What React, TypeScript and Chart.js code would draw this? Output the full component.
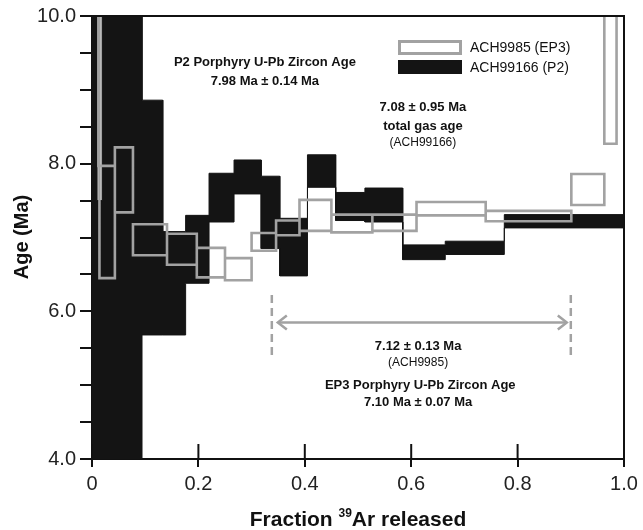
import React, { useEffect, useRef } from 'react';
import { Chart, registerables } from 'chart.js';

Chart.register(...registerables);

const FONT = "'Liberation Sans', Arial, Helvetica, sans-serif";

// ACH99166 (P2) step-heating spectrum: cumulative 39Ar fraction edges, age and error (Ma)
const p2Edges = [0, 0.009, 0.019, 0.094, 0.133, 0.176, 0.22, 0.267, 0.318, 0.353, 0.405, 0.458, 0.513, 0.584, 0.664, 0.775, 1.0];
const p2Age = [7.0, 5.0, 7.0, 7.27, 6.38, 6.84, 7.54, 7.82, 7.34, 6.87, 7.9, 7.42, 7.44, 6.8, 6.86, 7.22];
const p2Err = [4.0, 2.5, 4.0, 1.59, 0.7, 0.46, 0.33, 0.23, 0.49, 0.39, 0.22, 0.19, 0.23, 0.1, 0.09, 0.09];

// ACH9985 (EP3) step-heating spectrum
const ep3Edges = [0.012, 0.014, 0.043, 0.077, 0.141, 0.197, 0.25, 0.3, 0.346, 0.39, 0.45, 0.527, 0.61, 0.74, 0.901, 0.963, 0.986];
const ep3Age = [9.49, 7.21, 7.78, 6.97, 6.84, 6.66, 6.57, 6.94, 7.13, 7.3, 7.19, 7.2, 7.39, 7.29, 7.65, 9.64];
const ep3Err = [1.52, 0.76, 0.44, 0.21, 0.21, 0.2, 0.15, 0.12, 0.1, 0.21, 0.12, 0.11, 0.09, 0.07, 0.21, 1.37];

// Plateau bracket for ACH9985
const plateauRange = [0.338, 0.9];
const plateauArrowY = 5.85;
const plateauTickY = [5.38, 6.22];

const seriesNames = ['ACH9985 (EP3)', 'ACH99166 (P2)'];

const GRAY = '#a2a2a2';
const BLACK = '#141414';

function stepLine(edges: number[], vals: number[]) {
  const pts: { x: number; y: number | null }[] = [];
  vals.forEach((v, i) => {
    pts.push({ x: edges[i], y: v });
    pts.push({ x: edges[i + 1], y: v });
  });
  return pts;
}

function boxes(edges: number[], lo: number[], hi: number[]) {
  const pts: { x: number; y: number | null }[] = [];
  lo.forEach((l, i) => {
    const x0 = edges[i];
    const x1 = edges[i + 1];
    const h = hi[i];
    pts.push({ x: x0, y: l }, { x: x0, y: h }, { x: x1, y: h }, { x: x1, y: l }, { x: x0, y: l }, { x: x0, y: null });
  });
  return pts;
}

const extras = {
  id: 'extras',
  afterDraw(chart: any) {
    const { ctx, chartArea: a, scales } = chart;
    const xs = scales.x;
    const ys = scales.y;
    const X = (v: number) => xs.getPixelForValue(v);
    const Y = (v: number) => ys.getPixelForValue(v);
    ctx.save();

    // frame top & right
    ctx.strokeStyle = '#111';
    ctx.lineWidth = 2;
    ctx.beginPath();
    ctx.moveTo(a.left, a.top);
    ctx.lineTo(a.right, a.top);
    ctx.lineTo(a.right, a.bottom);
    ctx.stroke();

    // inner x ticks
    xs.ticks.forEach((t: any) => {
      const px = X(t.value);
      ctx.beginPath();
      ctx.moveTo(px, a.bottom);
      ctx.lineTo(px, a.bottom - 15);
      ctx.stroke();
    });

    // plateau bracket
    ctx.strokeStyle = GRAY;
    ctx.lineWidth = 2.5;
    ctx.setLineDash([8, 5]);
    plateauRange.forEach((v) => {
      ctx.beginPath();
      ctx.moveTo(X(v), Y(plateauTickY[1]));
      ctx.lineTo(X(v), Y(plateauTickY[0]));
      ctx.stroke();
    });
    ctx.setLineDash([]);
    const xl = X(plateauRange[0]) + 6;
    const xr = X(plateauRange[1]) - 4;
    const ya = Y(plateauArrowY);
    ctx.beginPath();
    ctx.moveTo(xl, ya);
    ctx.lineTo(xr, ya);
    ctx.stroke();
    ctx.lineJoin = 'miter';
    ctx.beginPath();
    ctx.moveTo(xl + 9, ya - 7);
    ctx.lineTo(xl, ya);
    ctx.lineTo(xl + 9, ya + 7);
    ctx.stroke();
    ctx.beginPath();
    ctx.moveTo(xr - 9, ya - 7);
    ctx.lineTo(xr, ya);
    ctx.lineTo(xr - 9, ya + 7);
    ctx.stroke();

    // annotations
    ctx.fillStyle = '#111';
    ctx.textAlign = 'center';
    ctx.textBaseline = 'middle';
    const txt = (s: string, x: number, y: number, bold: boolean, size: number) => {
      ctx.font = `${bold ? 'bold ' : ''}${size}px ${FONT}`;
      ctx.fillText(s, X(x), Y(y));
    };
    txt('P2 Porphyry U-Pb Zircon Age', 0.325, 9.365, true, 13);
    txt('7.98 Ma ± 0.14 Ma', 0.325, 9.115, true, 13);
    txt('7.08 ± 0.95 Ma', 0.622, 8.757, true, 13);
    txt('total gas age', 0.622, 8.5, true, 13);
    txt('(ACH99166)', 0.622, 8.28, false, 12);
    txt('7.12 ± 0.13 Ma', 0.613, 5.53, true, 13);
    txt('(ACH9985)', 0.613, 5.3, false, 12);
    txt('EP3 Porphyry U-Pb Zircon Age', 0.617, 5.0, true, 13);
    txt('7.10 Ma ± 0.07 Ma', 0.613, 4.77, true, 13);

    // legend
    ctx.strokeStyle = GRAY;
    ctx.lineWidth = 3;
    ctx.strokeRect(399.5, 41.5, 61, 12);
    ctx.fillStyle = BLACK;
    ctx.fillRect(398, 60, 64, 14);
    ctx.fillStyle = '#111';
    ctx.textAlign = 'left';
    ctx.font = `14px ${FONT}`;
    ctx.fillText(seriesNames[0], 470, 48);
    ctx.fillText(seriesNames[1], 470, 68);

    // axis titles
    ctx.font = `bold 21px ${FONT}`;
    ctx.textBaseline = 'alphabetic';
    const p1 = 'Fraction ';
    const p3 = 'Ar released';
    const w1 = ctx.measureText(p1).width;
    const w3 = ctx.measureText(p3).width;
    ctx.font = `bold 12px ${FONT}`;
    const w2 = ctx.measureText('39').width;
    const total = w1 + w2 + w3;
    let sx = 358 - total / 2;
    const by = 526;
    ctx.font = `bold 21px ${FONT}`;
    ctx.fillText(p1, sx, by);
    sx += w1;
    ctx.font = `bold 12px ${FONT}`;
    ctx.fillText('39', sx, by - 9);
    sx += w2;
    ctx.font = `bold 21px ${FONT}`;
    ctx.fillText(p3, sx, by);

    ctx.translate(22, 237);
    ctx.rotate(-Math.PI / 2);
    ctx.textAlign = 'center';
    ctx.textBaseline = 'middle';
    ctx.font = `bold 20px ${FONT}`;
    ctx.fillText('Age (Ma)', 0, 0);
    ctx.restore();
  },
};

export default function App() {
  const ref = useRef<HTMLCanvasElement | null>(null);
  useEffect(() => {
    document.body.style.margin = '0';
    const canvas = ref.current;
    if (!canvas) return;
    const p2Hi = p2Age.map((v, i) => v + p2Err[i]);
    const p2Lo = p2Age.map((v, i) => v - p2Err[i]);
    const epHi = ep3Age.map((v, i) => v + ep3Err[i]);
    const epLo = ep3Age.map((v, i) => v - ep3Err[i]);
    const chart = new Chart(canvas, {
      type: 'line',
      data: {
        datasets: [
          {
            label: seriesNames[0],
            data: boxes(ep3Edges, epLo, epHi) as any,
            borderColor: GRAY,
            borderWidth: 2.6,
            pointRadius: 0,
            fill: false,
            spanGaps: false,
            tension: 0,
            borderJoinStyle: 'miter',
            borderCapStyle: 'square',
          },
          {
            label: seriesNames[1] + ' upper',
            data: stepLine(p2Edges, p2Hi) as any,
            borderColor: BLACK,
            borderWidth: 1,
            pointRadius: 0,
            fill: false,
            tension: 0,
          },
          {
            label: seriesNames[1],
            data: stepLine(p2Edges, p2Lo) as any,
            borderColor: BLACK,
            backgroundColor: BLACK,
            borderWidth: 1,
            pointRadius: 0,
            fill: '-1',
            tension: 0,
          },
        ],
      },
      options: {
        animation: false,
        responsive: false,
        maintainAspectRatio: false,
        layout: { padding: { left: 0, right: 19, top: 15, bottom: 0 } },
        plugins: { legend: { display: false }, tooltip: { enabled: false } },
        scales: {
          x: {
            type: 'linear',
            min: 0,
            max: 1,
            afterFit: (s: any) => {
              s.height = 71;
            },
            ticks: {
              stepSize: 0.2,
              autoSkip: false,
              maxRotation: 0,
              padding: 5,
              color: '#222',
              font: { family: FONT, size: 20 },
              callback: (v: any) => (Number(v) === 0 ? '0' : Number(v).toFixed(1)),
            },
            grid: { drawOnChartArea: false, tickLength: 8, color: '#111', lineWidth: 2 },
            border: { display: true, color: '#111', width: 2 },
          },
          y: {
            min: 4,
            max: 10,
            afterFit: (s: any) => {
              s.width = 92;
            },
            ticks: {
              stepSize: 0.5,
              autoSkip: false,
              padding: 4,
              color: '#222',
              font: { family: FONT, size: 20 },
              callback: (v: any) => (Math.abs(Number(v) % 2) < 1e-9 ? Number(v).toFixed(1) : ''),
            },
            grid: { drawOnChartArea: false, tickLength: 12, color: '#111', lineWidth: 2 },
            border: { display: true, color: '#111', width: 2 },
          },
        },
      },
      plugins: [extras],
    });
    return () => chart.destroy();
  }, []);
  return (
    <div style={{ position: 'absolute', left: 0, top: 0, width: 643, height: 530 }}>
      <canvas ref={ref} width={643} height={530} style={{ width: 643, height: 530 }} />
    </div>
  );
}
